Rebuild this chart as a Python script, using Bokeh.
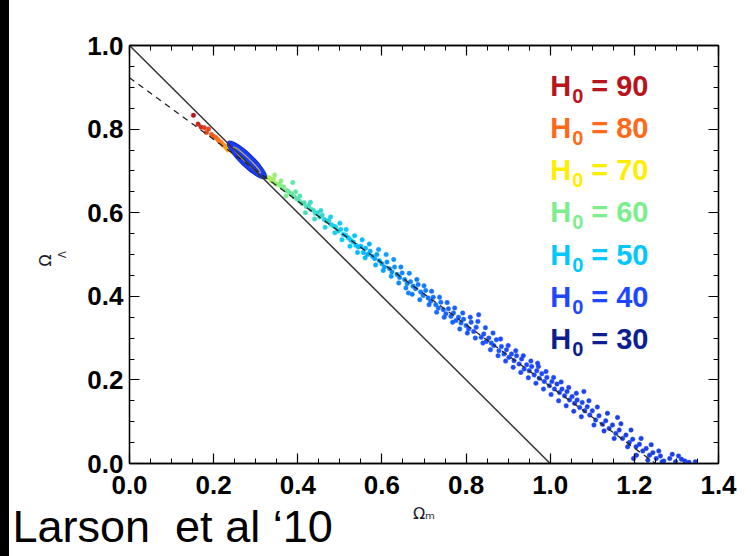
import numpy as np
from bokeh.plotting import figure
from bokeh.models import (Range1d, LinearAxis, FixedTicker, Label, Title, LinearColorMapper, ColumnDataSource,
                          PrintfTickFormatter, CustomJSTickFormatter, Div)
from bokeh.layouts import row
from bokeh.embed import file_html
from bokeh.resources import INLINE

# ---------------- data ----------------
core_om = [
    0.152, 0.163, 0.170, 0.178, 0.183, 0.188, 0.195, 0.200, 0.205, 0.210, 0.214, 0.218, 0.222, 0.226, 0.230, 0.234,
    0.240, 0.245, 0.250, 0.256, 0.262, 0.268, 0.274, 0.280, 0.286, 0.292, 0.298, 0.304, 0.310, 0.316,
    0.322, 0.328, 0.333, 0.338, 0.342, 0.347, 0.352, 0.357, 0.362, 0.366, 0.371, 0.376, 0.381, 0.386, 0.392, 0.398,
    0.388, 0.404, 0.410, 0.415, 0.420, 0.426, 0.431, 0.437, 0.442, 0.447, 0.452, 0.458, 0.463, 0.468, 0.474, 0.479,
    0.485, 0.490, 0.496, 0.502, 0.508, 0.514, 0.520, 0.526, 0.532, 0.538, 0.544,
    0.550, 0.556, 0.561, 0.566, 0.572, 0.578, 0.583, 0.588, 0.594, 0.600, 0.606, 0.612, 0.618, 0.624, 0.630, 0.636,
    0.642, 0.648, 0.654, 0.660, 0.663, 0.668, 0.674, 0.680, 0.686, 0.692, 0.698, 0.704, 0.710, 0.716, 0.722, 0.728,
    0.734, 0.740, 0.746, 0.752, 0.758, 0.764, 0.770, 0.776, 0.782, 0.788, 0.794, 0.800,
    0.806, 0.812, 0.818, 0.824, 0.830, 0.836, 0.842, 0.848, 0.854, 0.860, 0.866, 0.872, 0.878, 0.884, 0.890,
    0.896, 0.902, 0.908, 0.914, 0.920, 0.926, 0.932, 0.938, 0.944, 0.950, 0.956, 0.962, 0.968, 0.970, 0.974,
    0.980, 0.986, 0.992, 0.998, 1.004, 1.010,
    1.016, 1.022, 1.028, 1.034, 1.040, 1.046, 1.052, 1.058, 1.064, 1.070, 1.076, 1.080, 1.082, 1.088, 1.094,
    1.100, 1.108, 1.116, 1.124,
    1.132, 1.140, 1.148, 1.156, 1.160, 1.164, 1.172, 1.180, 1.188, 1.196, 1.198, 1.204, 1.205, 1.212, 1.220,
    1.228, 1.236, 1.244, 1.252, 1.262, 1.270, 1.284, 1.298, 1.305, 1.320, 1.345,
]
core_ol = [
    0.833, 0.812, 0.805, 0.803, 0.792, 0.800, 0.787, 0.782, 0.780, 0.775, 0.770, 0.768, 0.762, 0.760, 0.755, 0.750,
    0.752, 0.745, 0.742, 0.738, 0.733, 0.730, 0.724, 0.722, 0.716, 0.712, 0.708, 0.703, 0.699, 0.694,
    0.690, 0.684, 0.683, 0.676, 0.680, 0.670, 0.667, 0.668, 0.660, 0.662, 0.654, 0.652, 0.648, 0.645, 0.638, 0.633,
    0.672, 0.628, 0.622, 0.624, 0.615, 0.618, 0.608, 0.606, 0.598, 0.600, 0.590, 0.594, 0.584, 0.580, 0.582, 0.572,
    0.568, 0.566, 0.556, 0.560, 0.548, 0.546, 0.540, 0.534, 0.530, 0.522, 0.518,
    0.520, 0.505, 0.515, 0.500, 0.508, 0.495, 0.490, 0.500, 0.485, 0.478, 0.470, 0.482, 0.466, 0.458, 0.470, 0.452,
    0.445, 0.456, 0.440, 0.430, 0.408, 0.435, 0.424, 0.418, 0.428, 0.410, 0.402, 0.414, 0.396, 0.388, 0.398, 0.380,
    0.372, 0.386, 0.368, 0.358, 0.370, 0.352, 0.360, 0.342, 0.350, 0.336, 0.345, 0.330,
    0.322, 0.338, 0.316, 0.326, 0.356, 0.302, 0.310, 0.292, 0.300, 0.288, 0.282, 0.296, 0.270, 0.280, 0.262,
    0.272, 0.254, 0.262, 0.246, 0.258, 0.238, 0.250, 0.226, 0.236, 0.222, 0.232, 0.212, 0.222, 0.240, 0.204,
    0.215, 0.196, 0.206, 0.186, 0.196, 0.178,
    0.190, 0.170, 0.178, 0.162, 0.172, 0.152, 0.160, 0.144, 0.152, 0.134, 0.146, 0.172, 0.126, 0.136, 0.116,
    0.126, 0.104, 0.114, 0.094,
    0.102, 0.084, 0.092, 0.072, 0.110, 0.080, 0.060, 0.068, 0.050, 0.058, 0.012, 0.040, 0.020, 0.046, 0.030,
    0.036, 0.020, 0.026, 0.012, 0.018, 0.006, 0.012, 0.004, 0.018, 0.006, 0.004,
]
core_h0 = [
    90, 88, 87, 85, 84, 84, 82, 82, 81, 80, 79, 79, 78, 77, 76, 75,
    74, 74, 73, 72, 72, 71, 70, 70, 69, 68, 68, 67, 66, 66,
    65, 64, 64, 63, 63, 62, 62, 61, 61, 60, 60, 59, 59, 58, 58, 57,
    58, 57, 57, 56, 56, 56, 55, 55, 55, 54, 54, 54, 53, 53, 53, 52,
    52, 52, 52, 51, 51, 51, 50, 50, 50, 50, 49,
    49, 49, 49, 48, 48, 48, 48, 47, 47, 47, 47, 46, 46, 46, 46, 46,
    45, 45, 45, 45, 45, 45, 44, 44, 44, 44, 44, 44, 43, 43, 43, 43,
    43, 43, 42, 42, 42, 42, 42, 42, 42, 42, 42, 42,
    41, 41, 41, 41, 41, 41, 41, 41, 41, 41, 41, 41, 41, 41, 41,
    40, 40, 40, 40, 40, 40, 40, 40, 40, 40, 40, 40, 40, 40, 40,
    40, 40, 40, 40, 40, 40,
    39, 39, 39, 39, 39, 39, 39, 39, 39, 39, 39, 39, 39, 39, 39,
    39, 39, 39, 39,
    38, 38, 38, 38, 38, 38, 38, 38, 38, 38, 38, 38, 38, 38, 38,
    38, 38, 38, 38, 38, 38, 38, 38, 38, 38, 38,
]

wide_om = [
    0.345, 0.360, 0.372, 0.395, 0.405, 0.418, 0.430, 0.440, 0.455, 0.465, 0.478, 0.488, 0.500, 0.505, 0.515,
    0.524, 0.535, 0.542,
    0.553, 0.560, 0.570, 0.585, 0.592, 0.603, 0.610, 0.622, 0.628, 0.640, 0.645, 0.657, 0.665, 0.672, 0.683,
    0.690, 0.700, 0.712, 0.718, 0.730, 0.737, 0.748, 0.755, 0.768, 0.773, 0.785, 0.792,
    0.803, 0.810, 0.822, 0.828, 0.840, 0.846, 0.858, 0.864, 0.876, 0.882, 0.894, 0.900, 0.912, 0.918, 0.930,
    0.936, 0.948, 0.954, 0.966, 0.972, 0.984, 0.990, 1.002, 1.008, 1.020, 1.026, 1.038, 1.044, 1.056, 1.062,
    1.074, 1.092, 1.104, 1.112, 1.128, 1.136, 1.152, 1.168, 1.184, 1.192, 1.216, 1.232, 1.240, 1.258, 1.266,
    1.290, 1.312, 1.330,
]
wide_ol = [
    0.690, 0.676, 0.640, 0.650, 0.640, 0.600, 0.625, 0.585, 0.605, 0.565, 0.590, 0.552, 0.575, 0.535, 0.560,
    0.520, 0.545, 0.505,
    0.535, 0.492, 0.525, 0.475, 0.512, 0.462, 0.500, 0.448, 0.488, 0.432, 0.470, 0.420, 0.455, 0.405, 0.440,
    0.392, 0.425, 0.380, 0.412, 0.362, 0.398, 0.350, 0.385, 0.338, 0.372, 0.322, 0.360,
    0.312, 0.350, 0.300, 0.340, 0.288, 0.325, 0.272, 0.312, 0.258, 0.298, 0.245, 0.282, 0.230, 0.270, 0.218,
    0.258, 0.205, 0.245, 0.192, 0.232, 0.178, 0.220, 0.165, 0.206, 0.150, 0.195, 0.138, 0.182, 0.125, 0.168,
    0.112, 0.150, 0.092, 0.135, 0.078, 0.120, 0.060, 0.095, 0.040, 0.080, 0.060, 0.008, 0.045, 0.030, 0.004,
    0.022, 0.010, 0.003,
]
wide_h0 = [
    62, 61, 60, 58, 57, 56, 55, 55, 54, 53, 52, 52, 51, 51, 51,
    50, 50, 49,
    49, 49, 48, 48, 47, 47, 47, 46, 46, 45, 45, 45, 45, 44, 44,
    44, 44, 43, 43, 43, 43, 42, 42, 42, 42, 42, 42,
    41, 41, 41, 41, 41, 41, 41, 41, 41, 40, 40, 40, 40, 40, 40,
    40, 40, 40, 40, 40, 40, 40, 40, 40, 39, 39, 39, 39, 39, 39,
    39, 39, 39, 39, 38, 38, 38, 38, 38, 38, 38, 38, 38, 38, 38,
    38, 38, 38,
]

legend_values = ["90", "80", "70", "60", "50", "40", "30"]
legend_h0 = [90, 80, 70, 60, 50, 40, 30]
legend_colors = ["#b8141c", "#ff6a18", "#ffee00", "#7cee8e", "#00c8ff", "#1e48ff", "#0c1e90"]

x_ticks = [0.0, 0.2, 0.4, 0.6, 0.8, 1.0, 1.2, 1.4]
y_ticks = [0.0, 0.2, 0.4, 0.6, 0.8, 1.0]
x_minor = [round(0.05 * i, 2) for i in range(29)]
y_minor = [round(0.05 * i, 2) for i in range(21)]

flat_x = [0.0, 1.0]
flat_y = [1.0, 0.0]
fit_x = [0.0, 1.25]
fit_y = [0.923, 0.0]

wmap_x = [0.279]
wmap_y = [0.726]
wmap_w = [0.125]
wmap_h = [0.031]
wmap_inner_w = [0.088]
wmap_inner_h = [0.011]
wmap_angle = [-0.765]

y_title_main = "Ω"
y_title_sub = "Λ"
x_title = "Ω\u2098"
citation = "Larson\u00a0 et al \u201810"

# ---------------- colours ----------------
def hx(c):
    return [int(c[i:i + 2], 16) for i in (1, 3, 5)]

anch_h = legend_h0[::-1]
anch_rgb = np.array([hx(c) for c in legend_colors[::-1]], dtype=float)
palette = []
for g in range(30, 91):
    palette.append('#%02x%02x%02x' % tuple(int(round(np.interp(g, anch_h, anch_rgb[:, k]))) for k in range(3)))
mapper = LinearColorMapper(palette=palette, low=30, high=90)

TICK_FONT = "Liberation Sans"

# ---------------- main figure (canvas x 9..751, y 0..556) ----------------
p = figure(width=742, height=556, x_range=Range1d(0, 1.4), y_range=Range1d(0, 1.0),
           output_backend="svg", toolbar_location=None, title_location=None,
           min_border_left=120, min_border_right=33, min_border_top=45, min_border_bottom=93,
           background_fill_color="white", border_fill_color="white")
p.grid.visible = False
p.outline_line_color = "black"
p.outline_line_width = 1.3


def style_axis(ax, ticks, minor, labels):
    ax.ticker = FixedTicker(ticks=ticks, minor_ticks=minor)
    ax.major_tick_in = 10
    ax.major_tick_out = 0
    ax.minor_tick_in = 5
    ax.minor_tick_out = 0
    ax.axis_line_color = "black"
    ax.axis_line_width = 1.3
    ax.major_tick_line_color = "black"
    ax.minor_tick_line_color = "black"
    ax.major_tick_line_width = 1.2
    ax.minor_tick_line_width = 1.0
    if labels:
        ax.formatter = PrintfTickFormatter(format="%.1f")
        ax.major_label_text_font = TICK_FONT
        ax.major_label_text_font_style = "bold"
        ax.major_label_text_font_size = "26px"
        ax.major_label_text_color = "black"
    else:
        ax.formatter = CustomJSTickFormatter(code="return ''")
        ax.major_label_standoff = 0


style_axis(p.xaxis[0], x_ticks, x_minor, True)
style_axis(p.yaxis[0], y_ticks, y_minor, True)
p.xaxis[0].major_label_standoff = 12
p.yaxis[0].major_label_standoff = 6

# axis titles
p.xaxis[0].axis_label = x_title
p.xaxis[0].axis_label_text_font = "DejaVu Sans"
p.xaxis[0].axis_label_text_font_size = "16px"
p.xaxis[0].axis_label_text_font_style = "normal"
p.xaxis[0].axis_label_text_color = "#1a1a2a"
p.xaxis[0].axis_label_standoff = 7

p.yaxis[0].axis_label = y_title_sub
p.yaxis[0].axis_label_text_font = "DejaVu Sans"
p.yaxis[0].axis_label_text_font_size = "10px"
p.yaxis[0].axis_label_text_font_style = "normal"
p.yaxis[0].axis_label_text_color = "#1a1a2a"
p.yaxis[0].axis_label_standoff = 16

p.add_layout(Title(text=y_title_main, text_font="DejaVu Sans", text_font_size="16px",
                   text_font_style="normal", text_color="#1a1a2a", align="left",
                   vertical_align="bottom", offset=197, standoff=0), "left")

p.add_layout(Title(text=citation, text_font="Liberation Sans", text_font_size="45px",
                   text_font_style="normal", text_color="black", align="left",
                   vertical_align="top", offset=-117, standoff=-50), "below")

top_ax = LinearAxis()
style_axis(top_ax, x_ticks, x_minor, False)
p.add_layout(top_ax, "above")
right_ax = LinearAxis()
style_axis(right_ax, y_ticks, y_minor, False)
p.add_layout(right_ax, "right")

src_core = ColumnDataSource(dict(om=core_om, ol=core_ol, h=core_h0))
src_wide = ColumnDataSource(dict(om=wide_om, ol=wide_ol, h=wide_h0))
for src in (src_wide, src_core):
    p.scatter("om", "ol", source=src, marker="circle", size=4.5,
              fill_color={"field": "h", "transform": mapper},
              line_color={"field": "h", "transform": mapper}, line_width=0.5)

p.ellipse(x=wmap_x, y=wmap_y, width=wmap_w, height=wmap_h, angle=wmap_angle,
          fill_color="#1a3cff", line_color="#1430c8", line_width=1.2)
p.ellipse(x=wmap_x, y=wmap_y, width=wmap_inner_w, height=wmap_inner_h, angle=wmap_angle,
          fill_color=None, line_color="#e0c830", line_width=1.2, line_alpha=0.8)

p.line(fit_x, fit_y, line_color="#222222", line_width=1.3, line_dash="6 5")
p.line(flat_x, flat_y, line_color="#333333", line_width=1.5)

DX = 1.0 / 420.7
DY = 1.0 / 418.0
leg_x = 1.0
leg_y0 = 0.904
leg_dy = 0.101
for i, (v, c) in enumerate(zip(legend_values, legend_colors)):
    yb = leg_y0 - i * leg_dy
    p.add_layout(Label(x=leg_x, y=yb, text="H", text_color=c, text_font=TICK_FONT,
                       text_font_style="bold", text_font_size="29px", text_baseline="alphabetic"))
    p.add_layout(Label(x=leg_x + 22 * DX, y=yb - 10 * DY, text="0", text_color=c, text_font=TICK_FONT,
                       text_font_style="bold", text_font_size="20px", text_baseline="alphabetic"))
    p.add_layout(Label(x=leg_x + 41 * DX, y=yb, text="= " + v, text_color=c, text_font=TICK_FONT,
                       text_font_style="bold", text_font_size="29px", text_baseline="alphabetic"))

# ---------------- black slide edge on the left ----------------
edge_left = Div(text="", width=9, height=556, margin=0, styles={"background-color": "black"})

layout = row(edge_left, p, spacing=0)

open("out.html", "w").write(file_html(layout, INLINE))
